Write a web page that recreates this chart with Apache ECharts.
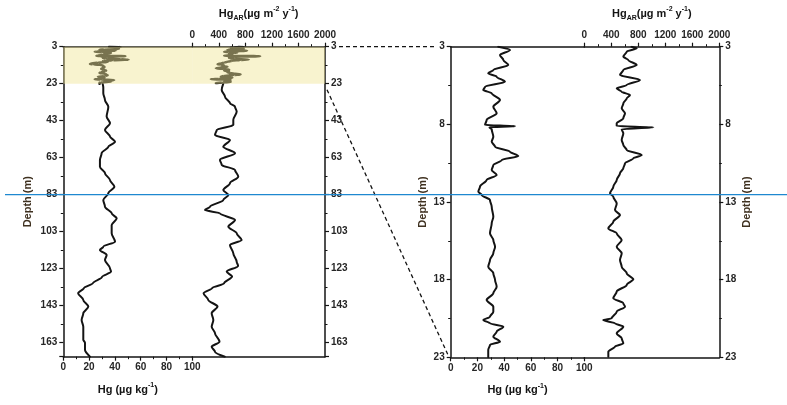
<!DOCTYPE html>
<html>
<head>
<meta charset="utf-8">
<script src="https://cdn.jsdelivr.net/npm/echarts@6/dist/echarts.min.js"></script>
<style>
  html, body { margin: 0; padding: 0; background: #ffffff; }
  #chart { width: 787px; height: 405px; }
</style>
</head>
<body>
<div id="chart"></div>
<script>
// ---- Sediment core profiles: Hg concentration and Hg accumulation rate vs depth ----

// Upper section (3–23 m), high-resolution record
const shallowHgDepth = [3.0, 3.21, 3.53, 3.86, 4.18, 4.50, 4.71, 4.93, 5.25, 5.58, 5.79, 6.00, 6.43, 6.86, 7.29, 7.72, 8.04, 8.12, 8.19, 8.32, 8.80, 9.12, 9.44, 9.76, 10.04, 10.30, 10.62, 10.94, 11.26, 11.58, 12.01, 12.34, 12.55, 12.87, 13.30, 13.95, 14.37, 15.02, 15.45, 15.88, 16.30, 16.73, 17.17, 17.59, 18.02, 18.45, 18.88, 19.31, 19.74, 20.06, 20.39, 20.60, 20.81, 21.03, 21.35, 21.67, 22.00, 22.20, 22.53, 23.0];
const shallowHg = [35.6, 44.4, 36.9, 39.4, 43.1, 31.9, 28.1, 34.4, 40.6, 25.7, 24.4, 30.7, 36.9, 31.9, 34.4, 26.9, 25.7, 48.1, 29.0, 30.7, 31.9, 30.7, 33.2, 44.4, 50.6, 38.2, 31.9, 30.7, 34.4, 26.9, 21.9, 20.7, 23.2, 29.4, 30.7, 31.9, 30.7, 29.4, 31.9, 33.2, 31.9, 29.4, 28.1, 31.9, 33.2, 34.4, 31.9, 26.9, 31.9, 31.9, 29.4, 24.4, 29.4, 39.4, 34.4, 31.9, 36.9, 29.4, 28.1, 28.1];

const shallowArDepth = [3.0, 3.10, 3.32, 3.64, 3.86, 4.18, 4.50, 4.82, 5.14, 5.47, 5.68, 5.90, 6.11, 6.33, 6.65, 6.97, 7.29, 7.61, 7.93, 8.11, 8.19, 8.32, 8.58, 9.01, 9.33, 9.65, 9.98, 10.19, 10.51, 10.83, 11.15, 11.58, 12.01, 12.44, 12.66, 13.09, 13.52, 13.84, 14.27, 14.70, 15.02, 15.45, 15.88, 16.30, 16.73, 17.17, 17.59, 17.98, 18.34, 18.77, 19.20, 19.52, 19.74, 20.06, 20.49, 20.60, 20.81, 21.03, 21.46, 21.78, 22.10, 22.31, 22.64, 22.96, 23.0];
const shallowAr = [700, 776, 628, 578, 652, 776, 578, 529, 825, 628, 480, 554, 677, 628, 578, 554, 603, 578, 480, 480, 1022, 554, 578, 554, 578, 628, 850, 726, 603, 578, 529, 480, 430, 381, 430, 480, 455, 529, 430, 356, 480, 554, 480, 554, 529, 554, 628, 726, 628, 480, 430, 578, 603, 480, 406, 281, 455, 578, 480, 554, 578, 455, 356, 356, 356];

// Lower section (23 m to base), coarse record
const deepHgDepth = [23.0, 25.0, 28.2, 31.8, 35.4, 40.8, 44.4, 48.0, 51.6, 54.4, 57.1, 60.6, 64.2, 67.9, 71.4, 75.1, 78.7, 82.2, 85.9, 89.5, 93.1, 95.8, 99.4, 103.9, 108.4, 111.1, 112.9, 115.6, 118.3, 122.8, 124.6, 127.5, 130.8, 133.5, 136.3, 139.9, 143.5, 147.1, 150.7, 154.4, 157.9, 161.5, 163.0, 166.9, 170.6];
const deepHg = [30.5, 31.0, 31.0, 32.3, 34.9, 33.6, 36.2, 32.3, 36.2, 40.1, 34.9, 29.7, 28.4, 28.4, 32.3, 36.2, 39.6, 34.9, 31.0, 32.3, 37.5, 41.4, 37.5, 37.5, 40.1, 31.0, 28.4, 33.6, 32.3, 36.2, 37.0, 30.0, 23.0, 16.0, 11.5, 15.5, 19.4, 15.5, 14.2, 15.5, 15.5, 15.5, 16.8, 16.8, 20.7];

const deepArDepth = [23.0, 26.4, 30.0, 33.6, 35.4, 38.1, 42.6, 45.3, 48.0, 50.7, 53.4, 57.1, 60.6, 64.2, 66.9, 69.6, 73.3, 76.8, 80.5, 83.2, 85.9, 89.5, 91.3, 93.1, 96.7, 100.3, 103.9, 107.5, 110.2, 114.7, 119.2, 121.5, 124.6, 127.3, 130.9, 133.5, 136.3, 139.9, 143.5, 147.1, 150.7, 154.4, 157.9, 162.5, 165.2, 167.9, 170.6];
const deepAr = [467, 443, 493, 568, 644, 669, 618, 618, 368, 342, 568, 467, 644, 417, 443, 644, 693, 568, 467, 543, 467, 267, 191, 417, 644, 543, 669, 744, 568, 618, 669, 690, 518, 600, 480, 300, 170, 241, 380, 292, 317, 292, 342, 410, 292, 342, 490];

// Axis ranges and ticks
const hgTicks = [0, 20, 40, 60, 80, 100];
const arTicks = [0, 400, 800, 1200, 1600, 2000];
const fullDepthRange = [3, 170.6];   // labelled every 20 m from 3
const fullDepthStep = 20;
const zoomDepthRange = [3, 23];      // labelled every 5 m from 3
const zoomDepthStep = 5;
const shadedInterval = [3, 23];
const markerDepth = 83;

const FONT = '"Liberation Sans", Arial, sans-serif';
const INK = '#141414';
const LABEL = '#262626';

function pairs(xs, ys) { return xs.map((x, i) => [x, ys[i]]); }

const labelStyle = { fontFamily: FONT, fontSize: 10, fontWeight: 'bold', color: LABEL };
const nameRich = {
  sup: { fontFamily: FONT, fontSize: 7, fontWeight: 'bold', color: INK, verticalAlign: 'top', lineHeight: 16 },
  sub: { fontFamily: FONT, fontSize: 7, fontWeight: 'bold', color: INK, verticalAlign: 'bottom', lineHeight: 16 }
};
const hgName = 'Hg (µg kg{sup|-1})';
const arName = 'Hg{sub|AR}(µg m{sup|-2} y{sup|-1})';

function tickAxisX(gridIndex, position, ticks, name) {
  return {
    type: 'value', gridIndex, position,
    min: ticks[0], max: ticks[ticks.length - 1], interval: ticks[1] - ticks[0],
    axisLine: { show: true, onZero: false, lineStyle: { color: INK, width: 1.5 } },
    axisTick: { show: true, inside: false, length: 4, lineStyle: { color: INK, width: 1.2 } },
    minorTick: { show: true, splitNumber: 2, length: 2.5, lineStyle: { color: INK, width: 1 } },
    axisLabel: Object.assign({ margin: 6, formatter: v => String(v) }, labelStyle),
    splitLine: { show: false },
    name, nameLocation: 'middle', nameGap: 25,
    nameTextStyle: { fontFamily: FONT, fontSize: 11, fontWeight: 'bold', color: INK, lineHeight: 16, rich: nameRich }
  };
}
function plainAxisX(gridIndex, position) {
  return {
    type: 'value', gridIndex, position, min: 0, max: 1,
    axisLine: { show: true, onZero: false, lineStyle: { color: INK, width: 1.5 } },
    axisTick: { show: false }, axisLabel: { show: false }, splitLine: { show: false }
  };
}
function depthAxis(gridIndex, position, range, step, withName) {
  return {
    type: 'value', gridIndex, position, inverse: true,
    min: range[0], max: range[1], interval: step,
    axisLine: { show: true, onZero: false, lineStyle: { color: INK, width: 1.5 } },
    axisTick: { show: true, inside: false, length: 4, lineStyle: { color: INK, width: 1.2 } },
    minorTick: { show: true, splitNumber: 2, length: 2.5, lineStyle: { color: INK, width: 1 } },
    axisLabel: Object.assign({
      margin: 6,
      formatter: v => (Math.abs(((v - range[0]) / step) - Math.round((v - range[0]) / step)) < 1e-6 ? String(v) : '')
    }, labelStyle),
    splitLine: { show: false },
    name: withName ? 'Depth (m)' : '',
    nameLocation: 'middle', nameRotate: 90,
    nameGap: gridIndex === 0 ? 30 : 22,
    nameTextStyle: { fontFamily: FONT, fontSize: 11, fontWeight: 'bold', color: '#3f3120' }
  };
}
function trace(xIdx, yIdx, xs, ys, width) {
  return {
    type: 'line', xAxisIndex: xIdx, yAxisIndex: yIdx,
    data: pairs(ys, xs), showSymbol: false, symbol: 'none',
    smooth: 0.3, smoothMonotone: 'y',
    lineStyle: { color: INK, width: width, join: 'round', cap: 'round' },
    z: 2, silent: true, animation: false
  };
}
function band(xIdx, yIdx) {
  return {
    type: 'line', xAxisIndex: xIdx, yAxisIndex: yIdx, data: [], z: 6, silent: true,
    markArea: {
      silent: true, z: 10,
      itemStyle: { color: 'rgba(240, 228, 150, 0.46)' },
      data: [[{ yAxis: shadedInterval[0] }, { yAxis: shadedInterval[1] }]]
    }
  };
}

const chart = echarts.init(document.getElementById('chart'), null, { renderer: 'canvas' });

const option = {
  animation: false,
  backgroundColor: '#ffffff',
  grid: [
    { left: 63.3, top: 46.7, width: 129, height: 310 },      // full core, Hg part
    { left: 192.3, top: 46.7, width: 132.7, height: 310 },   // full core, Hg_AR part
    { left: 450.7, top: 46.7, width: 133.6, height: 310.6 }, // upper section, Hg part
    { left: 584.3, top: 46.7, width: 135, height: 310.6 }    // upper section, Hg_AR part
  ],
  xAxis: [
    tickAxisX(0, 'bottom', hgTicks, hgName),  // 0
    plainAxisX(0, 'top'),                     // 1
    tickAxisX(1, 'top', arTicks, arName),     // 2
    plainAxisX(1, 'bottom'),                  // 3
    tickAxisX(2, 'bottom', hgTicks, hgName),  // 4
    plainAxisX(2, 'top'),                     // 5
    tickAxisX(3, 'top', arTicks, arName),     // 6
    plainAxisX(3, 'bottom')                   // 7
  ],
  yAxis: [
    depthAxis(0, 'left', fullDepthRange, fullDepthStep, true),
    depthAxis(1, 'right', fullDepthRange, fullDepthStep, false),
    depthAxis(2, 'left', zoomDepthRange, zoomDepthStep, true),
    depthAxis(3, 'right', zoomDepthRange, zoomDepthStep, true)
  ],
  series: [
    // full core
    trace(0, 0, shallowHgDepth, shallowHg, 2.6),
    trace(0, 0, deepHgDepth, deepHg, 2),
    trace(2, 1, shallowArDepth, shallowAr, 2.6),
    trace(2, 1, deepArDepth, deepAr, 2),
    band(0, 0),
    band(2, 1),
    // upper section
    trace(4, 2, shallowHgDepth, shallowHg, 2),
    trace(6, 3, shallowArDepth, shallowAr, 2)
  ]
};
chart.setOption(option);

// Connector lines between the two panels and the marker line
const lTop = chart.convertToPixel({ xAxisIndex: 2, yAxisIndex: 1 }, [2000, shadedInterval[0]]);
const lBot = chart.convertToPixel({ xAxisIndex: 2, yAxisIndex: 1 }, [2000, shadedInterval[1]]);
const rTop = chart.convertToPixel({ xAxisIndex: 4, yAxisIndex: 2 }, [0, zoomDepthRange[0]]);
const rBot = chart.convertToPixel({ xAxisIndex: 4, yAxisIndex: 2 }, [0, zoomDepthRange[1]]);
const markY = chart.convertToPixel({ yAxisIndex: 0 }, markerDepth);

const dash = { stroke: INK, lineWidth: 1.3, lineDash: [4, 3] };
chart.setOption({
  graphic: [
    { type: 'line', silent: true, z: 20, shape: { x1: lTop[0] + 14, y1: lTop[1], x2: rTop[0] - 15, y2: rTop[1] }, style: dash },
    { type: 'line', silent: true, z: 20, shape: { x1: lBot[0] + 2, y1: lBot[1] + 6, x2: rBot[0] - 3, y2: rBot[1] - 3 }, style: dash },
    { type: 'line', silent: true, z: 30, shape: { x1: 5, y1: markY, x2: 787, y2: markY }, style: { stroke: '#1e88d0', lineWidth: 1.3 } }
  ]
});
</script>
</body>
</html>
